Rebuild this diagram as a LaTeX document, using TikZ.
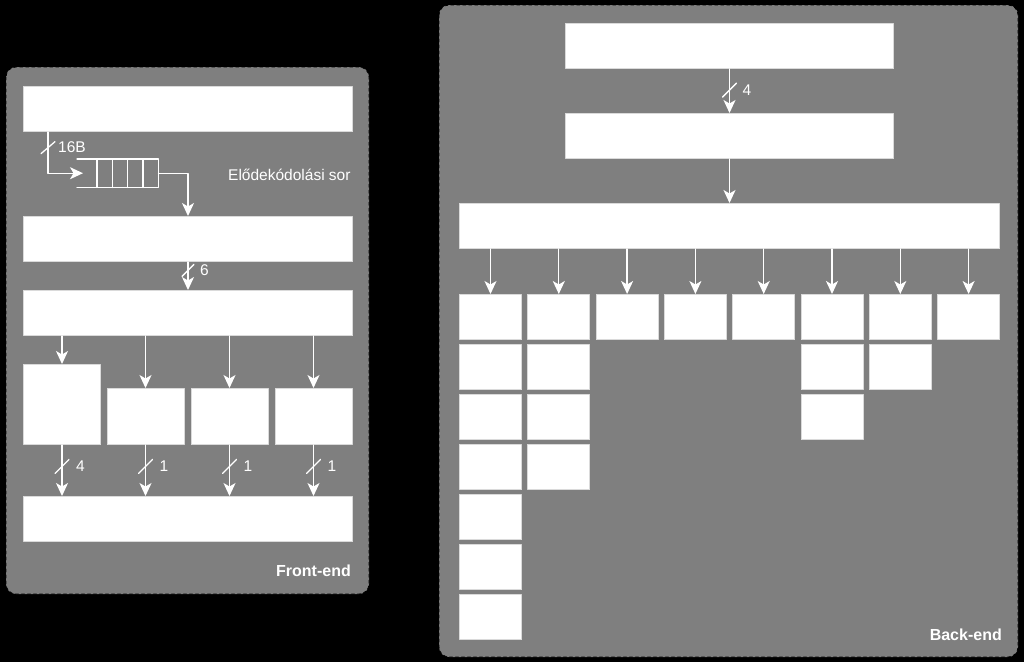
\documentclass[tikz,border=0pt]{standalone}
\usepackage{fontspec}
\setmainfont{Liberation Sans}
\usetikzlibrary{arrows.meta,calc}
\definecolor{panelgray}{HTML}{7F7F7F}
\definecolor{boxedge}{HTML}{DADADA}

\begin{document}
\begin{tikzpicture}[x=1pt,y=-1pt,line cap=round,line join=round,
  unit/.style={draw=boxedge,fill=white,line width=1pt,inner sep=0pt,anchor=north west},
  panel/.style={draw=black,dashed,fill=panelgray,rounded corners=10pt,line width=0.8pt},
  flow/.style={white,line width=1.3pt,arrows={-Stealth[length=13pt,width=12pt,inset=3.5pt]}},
  slash/.style={white,line width=1.3pt},
  qline/.style={white,line width=1.2pt},
  buslbl/.style={text=white,anchor=west,font=\fontsize{15.5}{18}\selectfont,inner sep=0pt},
  area/.style={text=white,anchor=east,font=\bfseries\fontsize{16}{19}\selectfont,inner sep=0pt}]

  % page background, also fixes the bounding box
  \fill[black] (0,0) rectangle (1024,662);

  % Front-end
  \draw[panel] (6,67) rectangle (369,594);
  \node[unit,minimum width=329,minimum height=45] (fetch) at (23,86) {};
  \node[inner sep=0pt,anchor=north west,minimum width=81,minimum height=28] (queue) at (77,159) {};
  \draw[qline] (queue.north west) -- (queue.north east) -- (queue.south east) -- (queue.south west);
  \foreach \dx in {20,35.3,50.6,65.9}{
    \draw[qline] ([xshift=\dx]queue.north west) -- ([xshift=\dx]queue.south west);
  }
  \node[buslbl] (qname) at (228,175) {Elődekódolási sor};
  \node[unit,minimum width=329,minimum height=45] (predec) at (23,216) {};
  \node[unit,minimum width=329,minimum height=45] (instq) at (23,290) {};
  \node[unit,minimum width=77,minimum height=80] (dec1) at (23,364) {};
  \foreach \d/\xx in {2/106.5,3/190.5,4/274.5}{
    \node[unit,minimum width=77,minimum height=56] (dec\d) at (\xx,388) {};
  }
  \node[unit,minimum width=329,minimum height=45] (uopq) at (23,496) {};
  \node[area] (fe) at (351,571) {Front-end};

  \draw[flow] ([xshift=25]fetch.south west) |- coordinate[pos=0.19] (s16) ([xshift=6]queue.west);
  \draw[slash] (s16) +(-7,6) -- +(7,-6);
  \node[buslbl] (l16) at ([xshift=10]s16) {16B};
  \draw[flow] (queue.east) -| (predec.north);
  \draw[flow] (predec.south) -- coordinate[pos=0.3] (s6) (instq.north);
  \draw[slash] (s6) +(-6,6) -- +(6,-6);
  \node[buslbl] (l6) at ([xshift=12]s6) {6};
  \foreach \d/\w in {1/4,2/1,3/1,4/1}{
    \draw[flow] (instq.south -| dec\d.north) -- (dec\d.north);
    \draw[flow] (dec\d.south) -- coordinate[pos=0.42] (s\d) (dec\d.south |- uopq.north);
    \draw[slash] (s\d) +(-7,7) -- +(7,-7);
    \node[buslbl] (l\d) at ([xshift=14]s\d) {\w};
  }

  % Back-end
  \draw[panel] (439,5) rectangle (1018,657);
  \node[unit,minimum width=328,minimum height=45] (alloc) at (565,23) {};
  \node[unit,minimum width=328,minimum height=45] (rob) at (565,113) {};
  \node[unit,minimum width=540,minimum height=45] (sched) at (459,203) {};
  \node[area] (be) at (1002,635) {Back-end};

  \draw[flow] (alloc.south) -- coordinate[pos=0.48] (sb4) (rob.north);
  \draw[slash] (sb4) +(-7,7) -- +(7,-7);
  \node[buslbl] (lb4) at ([xshift=13]sb4) {4};
  \draw[flow] (rob.south) -- (sched.north);

  % execution ports, one column of units per port
  \foreach \c/\n in {1/7,2/4,3/1,4/1,5/1,6/3,7/2,8/1}{
    \foreach \r in {1,...,\n}{
      \node[unit,minimum width=62,minimum height=45] (p\c-\r)
        at ({459+(\c-1)*68.3},{294+(\r-1)*50}) {};
    }
    \draw[flow] (sched.south -| p\c-1.north) -- (p\c-1.north);
  }
\end{tikzpicture}
\end{document}
